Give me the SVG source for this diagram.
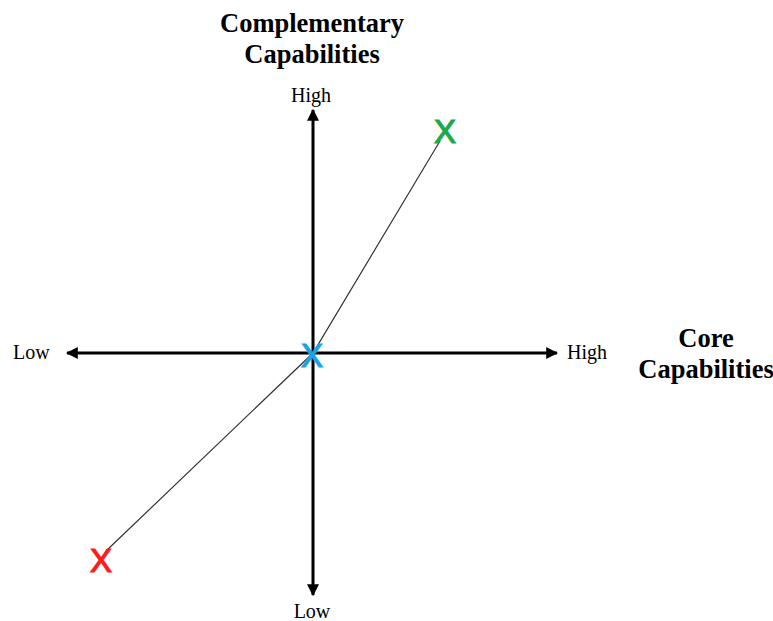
<svg xmlns="http://www.w3.org/2000/svg" width="773" height="621" viewBox="0 0 773 621">
<style>
.title{font-family:"Liberation Serif",serif;font-weight:bold;font-size:26.5px;fill:#000;text-anchor:middle}
.lbl{font-family:"Liberation Serif",serif;font-size:20px;fill:#000}
.axis{stroke:#000;stroke-width:3;fill:none}
.mark{font-family:"Liberation Sans",sans-serif;font-size:33px;text-anchor:middle;stroke-width:1.2}
</style>
<defs>
<marker id="ah" viewBox="0 0 10 10" refX="9" refY="5" markerWidth="4" markerHeight="4" orient="auto-start-reverse" markerUnits="strokeWidth">
<path d="M0,0 L10,5 L0,10 z" fill="#000"/>
</marker>
</defs>
<rect width="773" height="621" fill="#fff"/>
<g id="connectors">
<line class="axis" x1="313" y1="110" x2="313" y2="595" marker-start="url(#ah)" marker-end="url(#ah)"/>
<line class="axis" x1="67" y1="353" x2="557" y2="353" marker-start="url(#ah)" marker-end="url(#ah)"/>
<polyline points="106,551 313,353 440,141" fill="none" stroke="#333" stroke-width="1.2"/>
</g>
<g id="title-y">
<text class="title" x="312" y="32">Complementary</text>
<text class="title" x="312" y="63">Capabilities</text>
</g>
<g id="title-x">
<text class="title" x="706" y="347">Core</text>
<text class="title" x="706" y="378">Capabilities</text>
</g>
<g id="labels">
<text class="lbl" x="311" y="102" text-anchor="middle">High</text>
<text class="lbl" x="312" y="618" text-anchor="middle">Low</text>
<text class="lbl" x="13" y="359">Low</text>
<text class="lbl" x="567" y="359">High</text>
</g>
<g id="mark-green"><text class="mark" x="445" y="143" fill="#1aaa4a" stroke="#1aaa4a">X</text></g>
<g id="mark-blue"><text class="mark" x="312" y="367" fill="#1aa4e0" stroke="#1aa4e0">X</text></g>
<g id="mark-red"><text class="mark" x="101" y="572" fill="#ff1a1a" stroke="#ff1a1a">X</text></g>
</svg>
